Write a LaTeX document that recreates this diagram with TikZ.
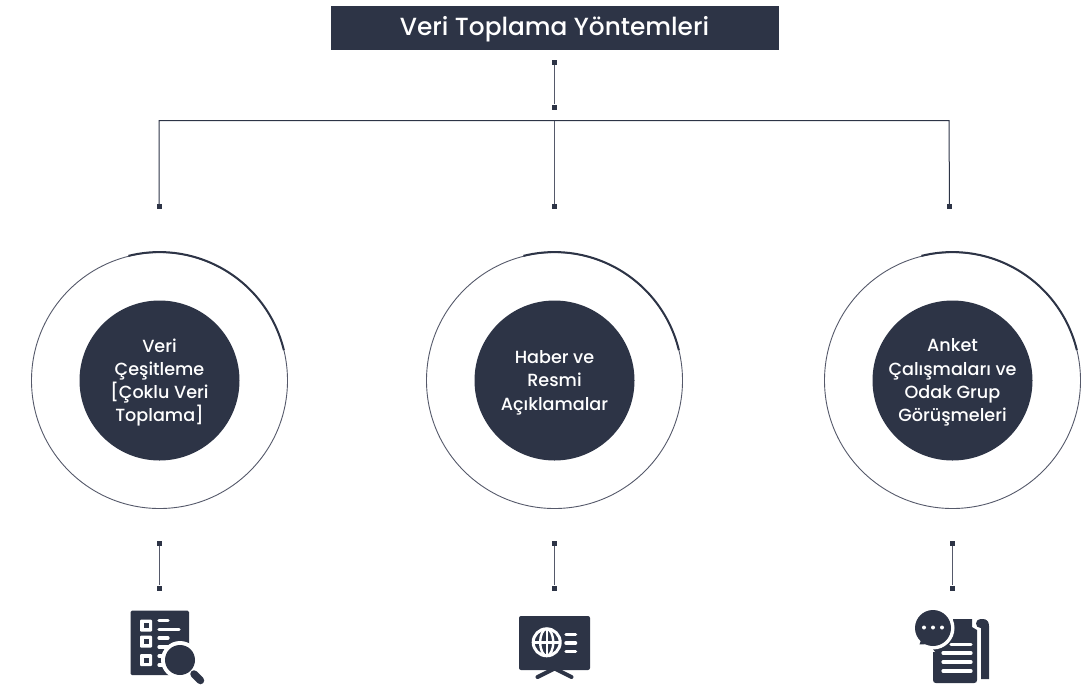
\documentclass[tikz,border=0pt]{standalone}
\usepackage{fontspec}
\setmainfont{Poppins Medium}
\definecolor{navy}{HTML}{2D3446}
\definecolor{ringc}{HTML}{55596A}
\tikzset{
  x=1pt,y=-1pt,
  title/.style={fill=navy,text=white,minimum width=448pt,minimum height=44pt,inner sep=0pt},
  hub/.style={circle,fill=navy,text=white,minimum size=160pt,inner sep=0pt},
  hubtext/.style={text=white,align=center,inner sep=0pt,font=\fontsize{17.6}{23.3}\selectfont},
  titletext/.style={text=white,inner sep=0pt,font=\fontsize{24.8}{28}\selectfont},
  ring/.style={circle,draw=ringc,line width=0.9pt,minimum size=256pt,inner sep=0pt},
  tick/.style={fill=navy,minimum size=5pt,inner sep=0pt,rectangle},
  link/.style={draw=ringc,line width=1pt},
  rail/.style={draw=navy,line width=1pt},
  accent/.style={draw=navy,line width=2pt},
  ink/.style={fill=navy,draw=none},
  paper/.style={fill=white,draw=none},
  bar/.style={draw=white,line width=3.2pt,line cap=round},
}
\begin{document}
\begin{tikzpicture}
\useasboundingbox (0,0) rectangle (1087,686);
\node[title] (head) at (554.5,28) {};
\node[titletext] (headtext) at (554.5,29) {Veri Toplama Yöntemleri};
\node[tick] (t0) at (554.5,62) {};
\node[tick] (t1) at (554.5,107) {};
\draw[link] (t0) -- (t1);
\coordinate (jl) at (159,120.5);
\coordinate (jm) at (554.5,120.5);
\coordinate (jr) at (949,120.5);
\node[tick] (dl) at (159,206.5) {};
\node[tick] (dm) at (554.5,206.5) {};
\node[tick] (dr) at (949.5,206.5) {};
\draw[rail] (dl) -- (jl) -- (jr) -- (dr);
\draw[link] (jm) -- (dm);
% circles
\node[ring] (rl) at (159.5,380.5) {};
\node[ring] (rm) at (554.5,380.5) {};
\node[ring] (rr) at (952.5,380.5) {};
\node[hub] (hl) at (159.5,380.5) {};
\node[hub] (hm) at (554.5,380.5) {};
\node[hub] (hr) at (952.5,380.5) {};
\node[hubtext] (tl) at (159.5,382.5) {Veri\\Çeşitleme\\{[}Çoklu Veri\\Toplama{]}};
\node[hubtext] (tm) at (554.5,382.5) {Haber ve\\Resmi\\Açıklamalar};
\node[hubtext] (tr) at (952.5,382.5) {Anket\\Çalışmaları ve\\Odak Grup\\Görüşmeleri};
\foreach \c in {rl,rm,rr}{
  \draw[accent] (\c.104) arc[start angle=104,end angle=13.5,radius=128pt];
}
% lower connectors
\node[tick] (al) at (159,543.5) {};
\node[tick] (bl) at (159,588) {};
\node[tick] (am) at (554.5,543.5) {};
\node[tick] (bm) at (554.5,588) {};
\node[tick] (ar) at (952.5,543.5) {};
\node[tick] (br) at (952.5,588) {};
\draw[link] (al) -- (bl);
\draw[link] (am) -- (bm);
\draw[link] (ar) -- (br);
% icon 1
\fill[ink,rounded corners=1.5pt] (130.5,610.5) rectangle (189,675);
\foreach \y in {625.5,641.5,660}{
  \fill[paper,rounded corners=1pt] (140,\y-6) rectangle (152,\y+6);
  \fill[ink] (143.5,\y-2.5) rectangle (148.5,\y+2.5);
}
\draw[bar] (159,620.5) -- (168,620.5);
\draw[bar] (159,629.5) -- (179,629.5);
\draw[bar] (159,638) -- (168,638);
\draw[bar] (159,647) -- (168,647);
\draw[bar] (159,656) -- (166,656);
\draw[bar] (159,665) -- (166,665);
\fill[paper] (180,660) circle[radius=19];
\draw[white,line width=11pt] (192,672) -- (200,680);
\fill[ink] (180,660) circle[radius=15];
\draw[navy,line width=7.5pt,line cap=round] (194,674) -- (200.5,680.5);
% icon 2
\fill[ink,rounded corners=2pt] (519,616) rectangle (590,670);
\draw[navy,line width=4pt,line cap=round,line join=round] (537.5,677) -- (554.5,668.5) -- (571.5,677);
\draw[white,line width=3pt] (546.7,642.3) circle[radius=13.5];
\draw[white,line width=2.4pt] (546.7,642.3) ellipse[x radius=6.5,y radius=13.5];
\draw[white,line width=2.4pt] (546.7,628.8) -- (546.7,655.8);
\draw[white,line width=2.6pt] (533.2,642.3) -- (560.2,642.3);
\draw[bar,line width=3.5pt] (566,634.5) -- (575.5,634.5);
\draw[bar,line width=3.5pt] (566,643) -- (575.5,643);
\draw[bar,line width=3.5pt] (566,651.5) -- (575.5,651.5);
% icon 3
\fill[ink] (953,619) -- (972,619) -- (972,627) -- (977,630) -- (977,680)
  .. controls (977,682) and (976,683) .. (974,683) -- (936,683)
  .. controls (934,683) and (933,682) .. (933,680) -- (933,640) -- (953,625) -- cycle;
\fill[ink] (980.5,623.5) circle[radius=4.5];
\fill[ink] (981,619) -- (983,619) .. controls (987,619) and (989,622) .. (989,626) -- (989,679) -- (981,679) -- cycle;
\fill[paper] (933,628) circle[radius=21.5];
\fill[paper] (925,640) -- (915,650) -- (935,652) -- cycle;
\fill[ink] (933,628) circle[radius=18];
\fill[ink] (921,640) -- (919.5,644.5) -- (929,644) -- cycle;
\foreach \x in {924,933,942}{\fill[paper] (\x,627.5) circle[radius=2];}
\draw[bar] (951,644.5) -- (971,644.5);
\draw[bar] (943,653) -- (971,653);
\draw[bar] (943,662) -- (971,662);
\draw[bar] (943,671) -- (971,671);
\end{tikzpicture}
\end{document}
